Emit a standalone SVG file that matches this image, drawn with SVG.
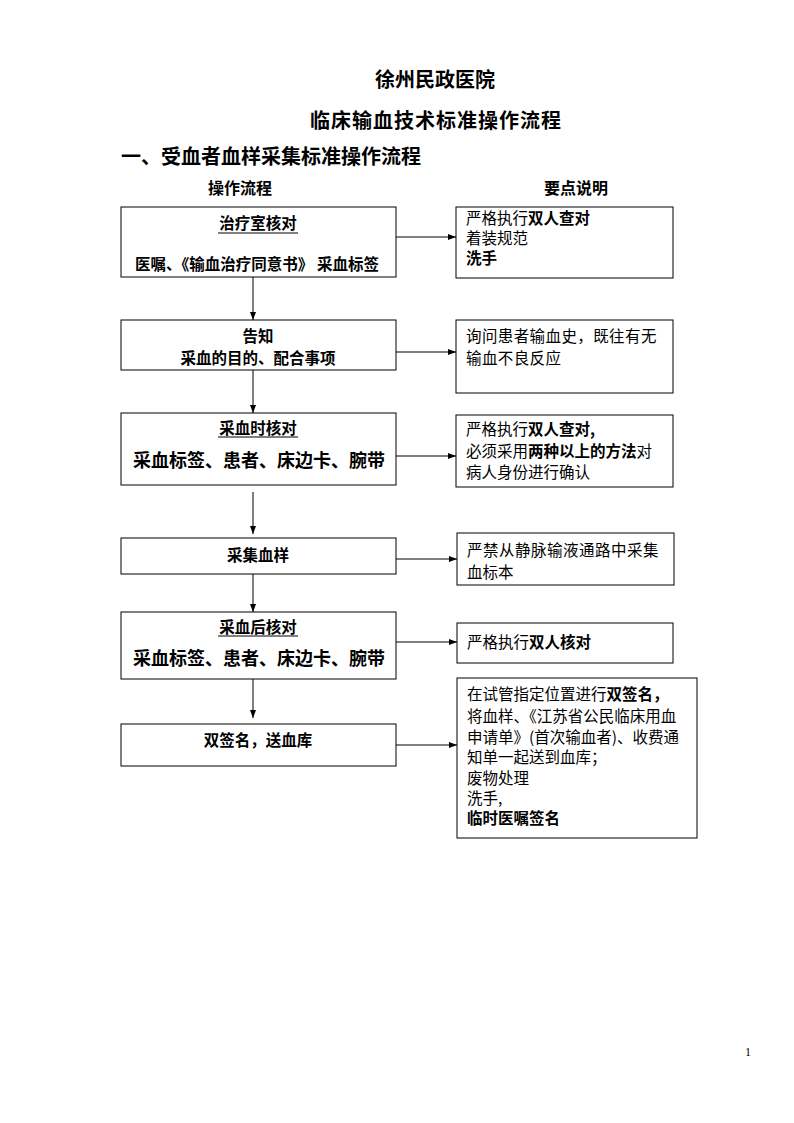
<svg xmlns="http://www.w3.org/2000/svg" width="794" height="1123" viewBox="0 0 794 1123">
<style>
text{font-family:"Noto Sans CJK SC","Noto Sans CJK TC",sans-serif;fill:#000}
.t{font-size:20px;font-weight:bold;text-anchor:middle}
.h{font-size:20px;font-weight:bold}
.col{font-size:16px;font-weight:bold;text-anchor:middle}
.m{font-size:15.5px;font-weight:bold;text-anchor:middle}
.mb{font-size:18px;font-weight:bold;text-anchor:middle}
.n{font-size:15.5px}
.b{font-weight:bold}
.box{fill:#fff;stroke:#000;stroke-width:1}
.c{stroke:#000;stroke-width:1;fill:none;marker-end:url(#ah)}
.u{stroke:#000;stroke-width:1}
</style>
<defs>
<marker id="ah" viewBox="0 0 8 8" refX="8" refY="4" markerWidth="8" markerHeight="8" markerUnits="userSpaceOnUse" orient="auto">
<path d="M0,1 L8,4 L0,7 Z" fill="#000"/>
</marker>
</defs>
<rect width="794" height="1123" fill="#fff"/>
<g id="titles">
<text class="t" x="435" y="87">徐州民政医院</text>
<text class="t" x="436" y="128" letter-spacing="1">临床输血技术标准操作流程</text>
<text class="h" x="121" y="164">一、受血者血样采集标准操作流程</text>
<text class="col" x="240" y="194">操作流程</text>
<text class="col" x="576" y="194">要点说明</text>
</g>
<g id="connectors">
<line class="c" x1="396" y1="237" x2="456" y2="237"/>
<line class="c" x1="396" y1="352" x2="456" y2="352"/>
<line class="c" x1="396" y1="456" x2="456" y2="456"/>
<line class="c" x1="396" y1="559" x2="457" y2="559"/>
<line class="c" x1="396" y1="642" x2="457" y2="642"/>
<line class="c" x1="396" y1="745" x2="457" y2="745"/>
<line class="c" x1="253" y1="277" x2="253" y2="320"/>
<line class="c" x1="253" y1="370" x2="253" y2="413"/>
<line class="c" x1="253" y1="492" x2="253" y2="534"/>
<line class="c" x1="253" y1="574" x2="253" y2="612"/>
<line class="c" x1="253" y1="679" x2="253" y2="718"/>
</g>
<g id="n1">
<rect class="box" x="121" y="207" width="275" height="70"/>
<text class="m" x="258" y="229">治疗室核对</text>
<line class="u" x1="218" y1="233" x2="298" y2="233"/>
<text class="m" x="257" y="270">医嘱、《输血治疗同意书》 采血标签</text>
</g>
<g id="r1">
<rect class="box" x="456" y="207" width="217" height="71"/>
<text class="n" x="466" y="224">严格执行<tspan class="b">双人查对</tspan></text>
<text class="n" x="466" y="244">着装规范</text>
<text class="n" x="466" y="264"><tspan class="b">洗手</tspan></text>
</g>
<g id="n2">
<rect class="box" x="121" y="320" width="275" height="50"/>
<text class="m" x="258" y="342">告知</text>
<text class="m" x="258" y="364">采血的目的、配合事项</text>
</g>
<g id="r2">
<rect class="box" x="456" y="320" width="217" height="73"/>
<text class="n" x="466" y="342" letter-spacing="0.4">询问患者输血史，既往有无</text>
<text class="n" x="466" y="364" letter-spacing="0.4">输血不良反应</text>
</g>
<g id="n3">
<rect class="box" x="121" y="413" width="275" height="72"/>
<text class="m" x="258" y="434">采血时核对</text>
<line class="u" x1="218" y1="437" x2="298" y2="437"/>
<text class="mb" x="259" y="467">采血标签、患者、床边卡、腕带</text>
</g>
<g id="r3">
<rect class="box" x="456" y="415" width="217" height="72"/>
<text class="n" x="466" y="435">严格执行<tspan class="b">双人查对,</tspan></text>
<text class="n" x="466" y="457">必须采用<tspan class="b">两种以上的方法</tspan>对</text>
<text class="n" x="466" y="478">病人身份进行确认</text>
</g>
<g id="n4">
<rect class="box" x="121" y="538" width="275" height="36"/>
<text class="m" x="258" y="561">采集血样</text>
</g>
<g id="r4">
<rect class="box" x="457" y="533" width="217" height="52"/>
<text class="n" x="467" y="556" letter-spacing="0.5">严禁从静脉输液通路中采集</text>
<text class="n" x="467" y="578">血标本</text>
</g>
<g id="n5">
<rect class="box" x="121" y="612" width="275" height="67"/>
<text class="m" x="258" y="633">采血后核对</text>
<line class="u" x1="218" y1="636" x2="298" y2="636"/>
<text class="mb" x="259" y="665">采血标签、患者、床边卡、腕带</text>
</g>
<g id="r5">
<rect class="box" x="457" y="623" width="216" height="40"/>
<text class="n" x="467" y="648">严格执行<tspan class="b">双人核对</tspan></text>
</g>
<g id="n6">
<rect class="box" x="121" y="724" width="275" height="42"/>
<text class="m" x="258" y="746">双签名，送血库</text>
</g>
<g id="r6">
<rect class="box" x="457" y="678" width="240" height="160"/>
<text class="n" x="467" y="700">在试管指定位置进行<tspan class="b">双签名，</tspan></text>
<text class="n" x="467" y="722">将血样、《江苏省公民临床用血</text>
<text class="n" x="467" y="743">申请单》(首次输血者)、收费通</text>
<text class="n" x="467" y="763">知单一起送到血库；</text>
<text class="n" x="467" y="784">废物处理</text>
<text class="n" x="467" y="804">洗手,</text>
<text class="n" x="467" y="824"><tspan class="b">临时医嘱签名</tspan></text>
</g>
<text x="745" y="1056" style="font-family:'Liberation Serif',serif;font-size:12px">1</text>
</svg>
